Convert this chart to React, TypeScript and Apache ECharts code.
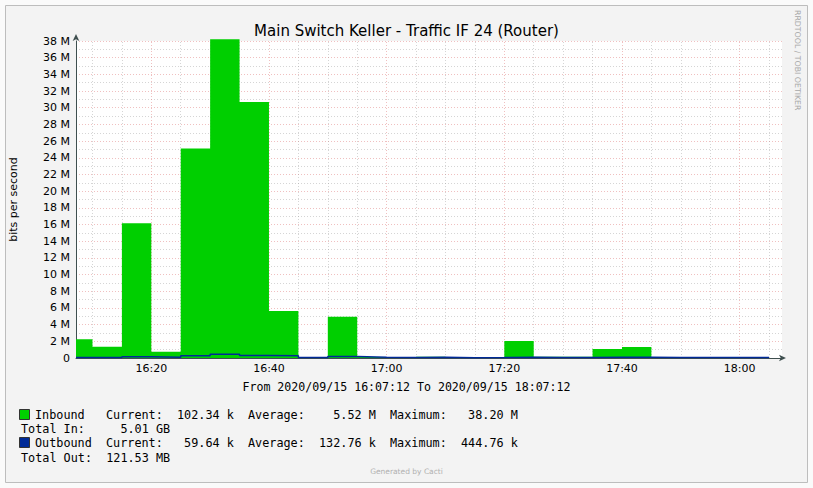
import React, { useEffect, useRef } from 'react';
import * as echarts from 'echarts';

const TITLE = 'Main Switch Keller - Traffic IF 24 (Router)';
const Y_AXIS_NAME = 'bits per second';
const RANGE_TEXT = 'From 2020/09/15 16:07:12 To 2020/09/15 18:07:12';
const WATERMARK = 'RRDTOOL / TOBI OETIKER';
const FOOTER = 'Generated by Cacti';

// time axis in minutes after 16:00
const viewStart = 7.2; // 16:07:12
const viewEnd = 127.2; // 18:07:12
const bucketStart = [7.2, 10, 15, 20, 25, 30, 35, 40, 45, 50, 55, 60, 65, 70, 75, 80, 85, 90, 95, 100, 105, 110, 115, 120];
const lastBucketEnd = 125;
// values in Mbit/s
const inboundM = [2.24, 1.36, 16.15, 0.76, 25.1, 38.2, 30.7, 5.63, 0.04, 4.95, 0.12, 0.03, 0.15, 0.02, 0.05, 2.04, 0.15, 0.15, 1.08, 1.32, 0.06, 0.06, 0.06, 0.1];
const outboundM = [0.06, 0.07, 0.16, 0.08, 0.26, 0.445, 0.3, 0.28, 0.05, 0.17, 0.09, 0.05, 0.08, 0.04, 0.05, 0.1, 0.07, 0.07, 0.09, 0.1, 0.05, 0.05, 0.05, 0.06];

const xLabelMinutes = [20, 40, 60, 80, 100, 120];
const xGridMinutes = [10, 15, 20, 25, 30, 35, 40, 45, 50, 55, 60, 65, 70, 75, 80, 85, 90, 95, 100, 105, 110, 115, 120, 125];
const yMax = 38;
const yStep = 2;

const legendNames = ['Inbound', 'Outbound'];
const legendColors = ['#00CF00', '#002A97'];
const legendCurrent = ['102.34 k', '59.64 k'];
const legendAverage = ['5.52 M', '132.76 k'];
const legendMaximum = ['38.20 M', '444.76 k'];
const legendTotalLabel = ['Total In:', 'Total Out:'];
const legendTotal = ['5.01 GB', '121.53 MB'];

const MONO = '"DejaVu Sans Mono", "Liberation Mono", monospace';
const SANS = '"DejaVu Sans", "Noto Sans", sans-serif';

const MAJOR_GRID = 'rgba(225,130,130,0.5)';
const MINOR_GRID = 'rgba(150,150,150,0.4)';

function fmtTime(m: number): string {
  const h = 16 + Math.floor(m / 60);
  const mm = Math.round(m % 60);
  return `${h}:${String(mm).padStart(2, '0')}`;
}

function stepData(values: number[]): number[][] {
  const d = bucketStart.map((x, i) => [x, values[i]]);
  d.push([lastBucketEnd, values[values.length - 1]]);
  return d;
}

function textEl(x: number, y: number, text: string, opts: any = {}) {
  const align = opts.align || 'left';
  return {
    type: 'text',
    x,
    y,
    rotation: opts.rotation || 0,
    z: 50,
    silent: true,
    style: {
      text,
      fill: opts.fill || '#000',
      fontSize: opts.fontSize || 11.8,
      fontFamily: opts.fontFamily || MONO,
      textAlign: align,
      align,
      textVerticalAlign: 'middle',
      verticalAlign: 'middle',
    },
  };
}

export default function App() {
  const ref = useRef<HTMLDivElement>(null);

  useEffect(() => {
    if (!ref.current) return;
    const chart = echarts.init(ref.current, undefined, { renderer: 'svg' });

    const cw = 7.1;
    const legendX = 35;
    const totalX = 21;
    const rowY = [415, 443];
    const totalY = [429, 458];
    const graphics: any[] = [
      {
        type: 'rect',
        z: -100,
        silent: true,
        shape: { x: 5.5, y: 5.5, width: 802, height: 477 },
        style: { fill: '#f3f3f3', stroke: '#bdbdbd', lineWidth: 1 },
      },
      textEl(406.5, 387, RANGE_TEXT, { align: 'center', fontSize: 11.6 }),
      textEl(797, 10, WATERMARK, { rotation: -Math.PI / 2, fontSize: 7.8, fontFamily: SANS, fill: '#a8a8a8' }),
      textEl(406.5, 471, FOOTER, { align: 'center', fontSize: 7.5, fontFamily: SANS, fill: '#b0b0b0' }),
    ];
    legendNames.forEach((name, i) => {
      const y = rowY[i];
      graphics.push({
        type: 'rect',
        z: 50,
        silent: true,
        shape: { x: 19.5, y: y - 5.5, width: 10, height: 10 },
        style: { fill: legendColors[i], stroke: '#333', lineWidth: 1 },
      });
      graphics.push(textEl(legendX, y, name));
      graphics.push(textEl(legendX + 10 * cw, y, 'Current:'));
      graphics.push(textEl(legendX + 28 * cw, y, legendCurrent[i], { align: 'right' }));
      graphics.push(textEl(legendX + 30 * cw, y, 'Average:'));
      graphics.push(textEl(legendX + 48 * cw, y, legendAverage[i], { align: 'right' }));
      graphics.push(textEl(legendX + 50 * cw, y, 'Maximum:'));
      graphics.push(textEl(legendX + 68 * cw, y, legendMaximum[i], { align: 'right' }));
      graphics.push(textEl(totalX, totalY[i], legendTotalLabel[i]));
      graphics.push(textEl(totalX + 21 * cw, totalY[i], legendTotal[i], { align: 'right' }));
    });

    const gridLines = xGridMinutes.map((m) => ({
      xAxis: m,
      lineStyle:
        m % 20 === 0
          ? { color: MAJOR_GRID, type: [1, 2], width: 1 }
          : { color: MINOR_GRID, type: [1, 2], width: 1 },
    }));

    chart.setOption({
      animation: false,
      backgroundColor: '#fafafa',
      title: {
        text: TITLE,
        left: 'center',
        top: 18,
        textStyle: { fontFamily: SANS, fontSize: 15, fontWeight: 'normal', color: '#000' },
      },
      grid: {
        left: 76,
        right: 31,
        top: 41,
        bottom: 130,
        show: true,
        backgroundColor: '#ffffff',
        borderWidth: 0,
      },
      xAxis: {
        type: 'value',
        min: viewStart,
        max: viewEnd,
        axisLine: {
          show: true,
          lineStyle: { color: '#3f4f4f', width: 1 },
          symbol: ['none', 'arrow'],
          symbolSize: [5, 7],
          symbolOffset: [0, 4],
        },
        axisTick: { show: false },
        splitLine: { show: false },
        axisLabel: {
          customValues: xLabelMinutes,
          formatter: (v: number) => fmtTime(v),
          color: '#000',
          fontFamily: SANS,
          fontSize: 11,
          margin: 5,
        },
      },
      yAxis: {
        type: 'value',
        min: 0,
        max: yMax,
        interval: yStep,
        name: Y_AXIS_NAME,
        nameLocation: 'middle',
        nameRotate: 90,
        nameGap: 57,
        nameTextStyle: { fontFamily: SANS, fontSize: 11, color: '#000' },
        axisLine: {
          show: true,
          lineStyle: { color: '#3f4f4f', width: 1 },
          symbol: ['none', 'arrow'],
          symbolSize: [5, 7],
          symbolOffset: [0, 7],
        },
        axisTick: { show: false },
        axisLabel: {
          formatter: (v: number) => (v === 0 ? '0' : `${v} M`),
          color: '#000',
          fontFamily: SANS,
          fontSize: 11,
          margin: 6,
        },
        splitLine: { show: true, lineStyle: { color: MAJOR_GRID, type: [1, 2], width: 1 } },
        minorTick: { show: false, splitNumber: 2 },
        minorSplitLine: { show: true, lineStyle: { color: MINOR_GRID, type: [1, 2], width: 1 } },
      },
      graphic: graphics,
      series: [
        {
          name: 'grid',
          type: 'line',
          data: [],
          silent: true,
          z: 1,
          markLine: {
            silent: true,
            z: 1,
            symbol: ['none', 'none'],
            label: { show: false },
            emphasis: { disabled: true },
            data: gridLines,
          },
        },
        {
          name: legendNames[0],
          type: 'line',
          step: 'end',
          data: stepData(inboundM),
          symbol: 'none',
          clip: false,
          z: 3,
          lineStyle: { width: 0, color: legendColors[0] },
          itemStyle: { color: legendColors[0] },
          areaStyle: { color: legendColors[0], opacity: 1 },
        },
        {
          name: legendNames[1],
          type: 'line',
          step: 'end',
          data: stepData(outboundM),
          symbol: 'none',
          z: 4,
          lineStyle: { width: 1.5, color: legendColors[1] },
          itemStyle: { color: legendColors[1] },
        },
      ],
    });

    return () => chart.dispose();
  }, []);

  return (
    <div
      ref={ref}
      style={{ position: 'fixed', left: 0, top: 0, width: 813, height: 488 }}
    />
  );
}
